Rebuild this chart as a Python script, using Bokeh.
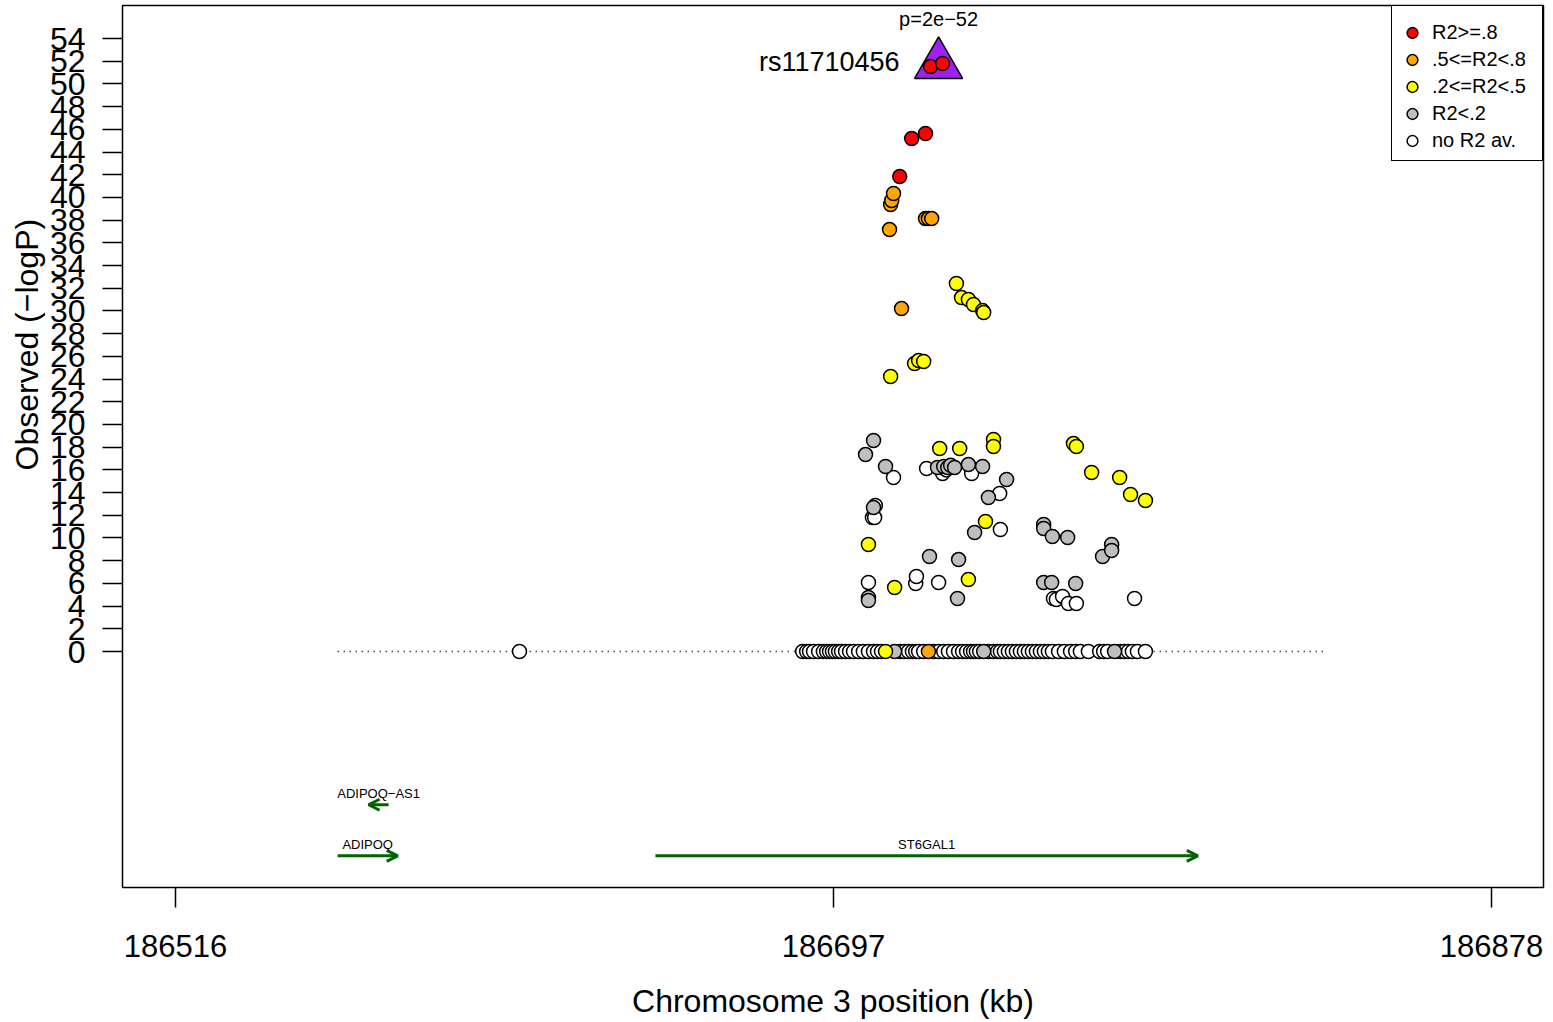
from bokeh.plotting import figure
from bokeh.models import (Range1d, FixedTicker, ColumnDataSource, Arrow, OpenHead,
                          Legend, LegendItem, Title)
from bokeh.core.properties import value
from bokeh.embed import file_html
from bokeh.resources import INLINE

FONT = "Liberation Sans"

# ---------------- data ----------------
index_name = "rs11710456"
index_pos = 186725.9
index_logp = 51.7
index_p_label = "p=2e\u221252"

region_start = 186560.6
region_end = 186832.4

red_pos = [186723.7, 186727.0, 186718.5, 186722.3, 186715.2]
red_logp = [51.53, 51.80, 45.19, 45.63, 41.84]

orange_pos = [186712.4, 186712.7, 186713.0, 186713.5, 186715.7, 186722.3, 186723.1, 186724.0, 186723.1]
orange_logp = [37.17, 39.38, 39.73, 40.35, 30.21, 38.14, 38.14, 38.14, 0.0]

yellow_pos = [186706.6, 186711.3, 186712.7, 186713.8, 186719.3, 186720.4, 186721.8, 186726.2,
              186730.8, 186731.7, 186732.2, 186734.1, 186734.1, 186735.5, 186738.0, 186738.3,
              186738.8, 186741.0, 186741.0, 186763.0, 186763.8, 186768.0, 186775.7, 186778.7,
              186782.8]
yellow_logp = [9.43, 0.0, 24.23, 5.64, 25.37, 25.63, 25.55, 17.88,
               32.42, 17.88, 31.18, 31.01, 6.34, 30.57, 30.03, 29.86,
               11.45, 18.68, 18.06, 18.32, 18.06, 15.77, 15.33, 13.83,
               13.30]

gray_pos = [186705.8, 186706.6, 186706.6, 186708.0, 186708.0, 186711.3, 186713.8, 186723.4,
            186725.6, 186727.3, 186728.4, 186729.2, 186730.3, 186731.1, 186731.4, 186734.1,
            186735.8, 186738.0, 186738.3, 186739.6, 186744.6, 186754.8, 186754.8, 186754.8,
            186757.0, 186757.2, 186761.4, 186763.6, 186771.0, 186773.5, 186773.5, 186774.3]
gray_logp = [17.35, 4.76, 4.49, 18.59, 12.69, 16.30, 0.0, 8.37,
             16.21, 16.30, 16.20, 16.40, 16.21, 4.67, 8.10, 16.47,
             10.48, 16.30, 0.0, 13.57, 15.15, 11.19, 10.84, 6.08,
             6.08, 10.13, 10.04, 5.99, 8.37, 9.43, 8.90, 0.0]

white_pos = [186610.6,
             186688.5, 186689.6, 186690.4, 186691.5, 186692.9, 186694.2, 186695.1, 186695.9,
             186696.7, 186697.5, 186698.4, 186699.2, 186700.3, 186701.4, 186702.5, 186703.9,
             186705.2, 186706.6, 186706.6, 186707.7, 186708.0, 186708.3, 186708.5, 186709.1,
             186710.2, 186713.5, 186715.4, 186716.5, 186717.6, 186718.7, 186719.6, 186719.6,
             186719.8, 186720.4, 186721.8, 186722.6, 186724.5, 186725.9, 186725.9, 186727.0,
             186727.3, 186728.0, 186728.6, 186730.0, 186731.4, 186732.5, 186733.6, 186734.7,
             186735.0, 186735.5, 186736.3, 186737.2, 186739.6, 186741.0, 186742.1, 186742.7,
             186742.9, 186742.9, 186744.0, 186745.1, 186746.2, 186747.3, 186748.4, 186749.5,
             186750.6, 186751.7, 186752.8, 186753.9, 186755.0, 186756.1, 186757.2, 186757.5,
             186758.3, 186758.9, 186760.0, 186760.5, 186761.6, 186762.2, 186763.6, 186763.8,
             186764.9, 186767.1, 186770.2, 186771.3, 186772.4, 186775.9, 186777.0, 186778.1,
             186779.2, 186779.8, 186780.6, 186782.8]
white_logp = [0.0,
              0.0, 0.0, 0.0, 0.0, 0.0, 0.0, 0.0, 0.0,
              0.0, 0.0, 0.0, 0.0, 0.0, 0.0, 0.0, 0.0,
              0.0, 0.0, 6.08, 11.80, 0.0, 11.80, 12.86, 0.0,
              0.0, 15.33, 0.0, 0.0, 0.0, 0.0, 0.0, 5.99,
              6.61, 0.0, 0.0, 16.12, 0.0, 0.0, 6.08, 15.68,
              0.0, 16.00, 0.0, 0.0, 0.0, 0.0, 0.0, 0.0,
              15.68, 0.0, 0.0, 0.0, 0.0, 0.0, 0.0, 13.92,
              0.0, 10.75, 0.0, 0.0, 0.0, 0.0, 0.0, 0.0,
              0.0, 0.0, 0.0, 0.0, 0.0, 0.0, 0.0, 4.67,
              4.58, 0.0, 4.85, 0.0, 4.23, 0.0, 0.0, 4.23,
              0.0, 0.0, 0.0, 0.0, 0.0, 0.0, 0.0, 0.0,
              0.0, 4.67, 0.0, 0.0]

categories = ["R2>=.8", ".5<=R2<.8", ".2<=R2<.5", "R2<.2", "no R2 av."]
cat_colors = ["#FF0000", "#FFA500", "#FFFF00", "#BEBEBE", "#FFFFFF"]

gene_names = ["ADIPOQ", "ADIPOQ\u2212AS1", "ST6GAL1"]
gene_start = [186560.6, 186569.1, 186648.0]
gene_end = [186577.1, 186574.6, 186797.2]
gene_strand = ["+", "-", "+"]
gene_row = [1, 2, 1]

x_ticks = [186516, 186697, 186878]
x_tick_labels = ["186516", "186697", "186878"]
y_ticks = [0, 2, 4, 6, 8, 10, 12, 14, 16, 18, 20, 22, 24, 26, 28, 30, 32, 34, 36, 38, 40,
           42, 44, 46, 48, 50, 52, 54]

# ---------------- figure ----------------
p = figure(width=1553, height=1022, output_backend="svg", toolbar_location=None,
           x_range=Range1d(186501.4, 186892.3), y_range=Range1d(-20.79, 56.91),
           min_border_left=122, min_border_right=10, min_border_top=5, min_border_bottom=135)
p.xgrid.visible = False
p.ygrid.visible = False
p.outline_line_color = "black"
p.outline_line_width = 1.5
p.outline_line_alpha = 1.0
p.background_fill_color = "white"
p.border_fill_color = "white"

xa = p.xaxis[0]
xa.ticker = FixedTicker(ticks=x_ticks)
xa.major_label_overrides = {t: l for t, l in zip(x_ticks, x_tick_labels)}
xa.axis_line_color = None
xa.major_tick_out = 20
xa.major_tick_in = 0
xa.minor_tick_out = 0
xa.minor_tick_in = 0
xa.major_tick_line_color = "black"
xa.major_tick_line_width = 1.5
xa.major_label_standoff = 27
xa.major_label_text_font = FONT
xa.major_label_text_font_size = "31px"
xa.major_label_text_color = "black"
xa.axis_label = "Chromosome 3 position (kb)"
xa.axis_label_text_font = FONT
xa.axis_label_text_font_size = "32px"
xa.axis_label_text_font_style = "normal"
xa.axis_label_text_color = "black"
xa.axis_label_standoff = 23

ya = p.yaxis[0]
ya.ticker = FixedTicker(ticks=y_ticks)
ya.axis_line_color = None
ya.major_tick_out = 20
ya.major_tick_in = 0
ya.minor_tick_out = 0
ya.minor_tick_in = 0
ya.major_tick_line_color = "black"
ya.major_tick_line_width = 1.5
ya.major_label_standoff = 17
ya.major_label_text_font = FONT
ya.major_label_text_font_size = "32px"
ya.major_label_text_color = "black"

ytitle = Title(text="Observed (\u2212logP)", align="left", offset=417,
               text_font=FONT, text_font_size="32px", text_font_style="normal",
               text_color="black", standoff=4)
p.add_layout(ytitle, "left")

# dotted baseline across the region
p.line(x=[region_start, region_end], y=[0, 0], line_color="black", line_width=1.3,
       line_dash="1 5")

# index SNP triangle
p.scatter(x=[index_pos], y=[index_logp], marker="triangle", size=48,
          fill_color="#A020F0", line_color="black", line_width=1.5)

# SNP points, drawn from lowest to highest LD
series = [
    (white_pos, white_logp, 4),
    (gray_pos, gray_logp, 3),
    (yellow_pos, yellow_logp, 2),
    (orange_pos, orange_logp, 1),
    (red_pos, red_logp, 0),
]
renderers = {}
for pos, lp, ci in series:
    order = sorted(range(len(pos)), key=lambda i: pos[i])
    src = ColumnDataSource(dict(x=[pos[i] for i in order], y=[lp[i] for i in order]))
    r = p.scatter("x", "y", source=src, marker="circle", size=14,
                  fill_color=cat_colors[ci], line_color="black", line_width=1.5)
    renderers[ci] = r

# index SNP labels
p.text(x=[index_pos], y=[index_logp], text=[index_name], text_align="right",
       text_baseline="middle", x_offset=-39, y_offset=-3,
       text_font=value(FONT), text_font_size="27px", text_color="black")
p.text(x=[index_pos], y=[index_logp], text=[index_p_label], text_align="center",
       text_baseline="middle", y_offset=-46,
       text_font=value(FONT), text_font_size="20px", text_color="black")

# gene track
track_y = {1: -18.0, 2: -13.5}
gy = [track_y[r] for r in gene_row]
gx0 = [s if st == "+" else e for s, e, st in zip(gene_start, gene_end, gene_strand)]
gx1 = [e if st == "+" else s for s, e, st in zip(gene_start, gene_end, gene_strand)]
gmid = [(s + e) / 2 for s, e in zip(gene_start, gene_end)]
gsrc = ColumnDataSource(dict(x0=gx0, x1=gx1, y=gy, mid=gmid, name=gene_names))
p.add_layout(Arrow(end=OpenHead(size=11, line_width=3, line_color="#006400"),
                   x_start="x0", y_start="y", x_end="x1", y_end="y", source=gsrc,
                   line_color="#006400", line_width=3))
p.text(x="mid", y="y", text="name", source=gsrc, text_align="center",
       text_baseline="bottom", y_offset=-4, text_font=value(FONT),
       text_font_size="13px", text_color="black")

# legend
items = [LegendItem(label=categories[i], renderers=[renderers[i]]) for i in range(5)]
legend = Legend(items=items, location="top_right", margin=0, padding=6,
                glyph_width=28, glyph_height=27, label_standoff=6, spacing=0,
                label_width=104, label_height=20,
                label_text_font=FONT, label_text_font_size="20px",
                label_text_color="black",
                title=" ", title_text_font_size="6px", title_standoff=1,
                border_line_color="black", border_line_width=1.5, border_line_alpha=1.0,
                background_fill_color="white", background_fill_alpha=1.0)
p.add_layout(legend)

open("out.html", "w").write(file_html(p, INLINE))
